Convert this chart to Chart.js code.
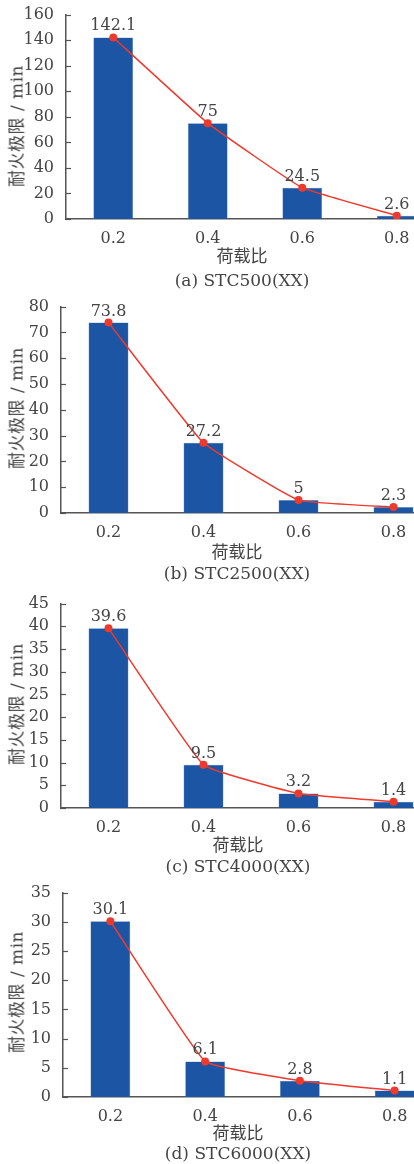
<!DOCTYPE html>
<html>
<head>
<meta charset="utf-8">
<script src="https://cdn.jsdelivr.net/npm/chart.js@4.4.0/dist/chart.umd.min.js"></script>
<style>
    body { margin: 0; width: 414px; height: 1164px; overflow: hidden; background: #fff; position: relative; }
    canvas { position: absolute; left: 0; }
    .txt { position: absolute; white-space: nowrap; color: #444; font: 17px "DejaVu Serif", "Noto Sans CJK SC", serif; transform: translate(-50%, -50%); line-height: 1; }
    .ytitle { transform: translate(-50%, -50%) rotate(-90deg); letter-spacing: 0.5px; }
</style>
</head>
<body>
<script>
// data
var loadRatios = ['0.2', '0.4', '0.6', '0.8'];
var stc500 = [142.1, 75, 24.5, 2.6];
var stc2500 = [73.8, 27.2, 5, 2.3];
var stc4000 = [39.6, 9.5, 3.2, 1.4];
var stc6000 = [30.1, 6.1, 2.8, 1.1];
var yMaxes = [160, 80, 45, 35];
var ySteps = [20, 10, 5, 5];
var captions = ['(a) STC500(XX)', '(b) STC2500(XX)', '(c) STC4000(XX)', '(d) STC6000(XX)'];
var xTitle = '荷载比';
var yTitle = '耐火极限 / min';

var series = [stc500, stc2500, stc4000, stc6000];

// layout of each panel (pixels)
var panels = [
    { top: 13, bottom: 219, left: 66, right: 444, yTitleY: 126, xTitleY: 256, captionY: 280, cx: 242 },
    { top: 305, bottom: 513, left: 61, right: 441, yTitleY: 408, xTitleY: 552, captionY: 573, cx: 237 },
    { top: 602, bottom: 808, left: 61, right: 441, yTitleY: 704, xTitleY: 845, captionY: 866, cx: 238 },
    { top: 891, bottom: 1097, left: 63, right: 442, yTitleY: 992, xTitleY: 1133, captionY: 1153, cx: 238 }
];

var canvasWidth = 460;
var padTop = 12;
var xAxisHeight = 34;
var textColor = '#444';
var axisColor = '#555';
var barColor = '#1c55a4';
var lineColor = '#ee3a2c';
var serif = '"DejaVu Serif", serif';
var fontSize = 16;

// value labels above the red points, and short inward ticks on the y axis
var extras = {
    id: 'extras',
    afterDatasetsDraw: function (chart) {
        var ctx = chart.ctx;
        var yScale = chart.scales.y;
        var left = chart.chartArea.left;
        ctx.save();
        ctx.strokeStyle = axisColor;
        ctx.lineWidth = 1.2;
        yScale.ticks.forEach(function (t) {
            var y = Math.round(yScale.getPixelForValue(t.value)) + 0.5;
            ctx.beginPath();
            ctx.moveTo(left, y);
            ctx.lineTo(left + 5, y);
            ctx.stroke();
        });

        var meta = chart.getDatasetMeta(0);
        var values = chart.data.datasets[0].data;
        ctx.font = fontSize + 'px ' + serif;
        ctx.fillStyle = textColor;
        ctx.textAlign = 'center';
        ctx.textBaseline = 'alphabetic';
        meta.data.forEach(function (pt, i) {
            ctx.fillText(String(values[i]), pt.x, pt.y - 7);
        });
        ctx.restore();
    }
};

function addText(text, x, y, cls) {
    var d = document.createElement('div');
    d.className = 'txt' + (cls ? ' ' + cls : '');
    d.textContent = text;
    d.style.left = x + 'px';
    d.style.top = y + 'px';
    document.body.appendChild(d);
}

panels.forEach(function (p, i) {
    var canvas = document.createElement('canvas');
    var height = (p.bottom - p.top) + padTop + xAxisHeight;
    canvas.width = canvasWidth;
    canvas.height = height;
    canvas.style.width = canvasWidth + 'px';
    canvas.style.height = height + 'px';
    canvas.style.top = (p.top - padTop) + 'px';
    document.body.appendChild(canvas);

    new Chart(canvas, {
        type: 'bar',
        data: {
            labels: loadRatios,
            datasets: [{
                type: 'line',
                data: series[i],
                borderColor: lineColor,
                backgroundColor: lineColor,
                borderWidth: 1.5,
                pointRadius: 4,
                pointBorderWidth: 0,
                tension: 0.1,
                order: 0
            }, {
                type: 'bar',
                data: series[i],
                backgroundColor: barColor,
                borderColor: '#5f86c4',
                borderWidth: 0.5,
                barPercentage: 0.42,
                categoryPercentage: 1,
                order: 1
            }]
        },
        options: {
            responsive: false,
            animation: false,
            devicePixelRatio: 1,
            layout: {
                padding: { top: padTop, left: 0, right: canvasWidth - p.right, bottom: 0 }
            },
            plugins: {
                legend: { display: false },
                tooltip: { enabled: false }
            },
            scales: {
                x: {
                    grid: { display: true, drawOnChartArea: false, drawTicks: false },
                    border: { display: true, color: axisColor, width: 1.5 },
                    ticks: {
                        padding: 10,
                        color: textColor,
                        font: { family: serif, size: fontSize }
                    },
                    afterFit: function (scale) {
                        scale.height = xAxisHeight;
                    }
                },
                y: {
                    min: 0,
                    max: yMaxes[i],
                    grid: { display: false },
                    border: { display: true, color: axisColor, width: 1.5 },
                    ticks: {
                        stepSize: ySteps[i],
                        autoSkip: false,
                        padding: 4,
                        color: textColor,
                        font: { family: serif, size: fontSize }
                    },
                    afterFit: function (scale) {
                        scale.width = p.left;
                    }
                }
            }
        },
        plugins: [extras]
    });

    addText(yTitle, 17, p.yTitleY, 'ytitle');
    addText(xTitle, p.cx, p.xTitleY);
    addText(captions[i], p.cx, p.captionY);
});
</script>
</body>
</html>
